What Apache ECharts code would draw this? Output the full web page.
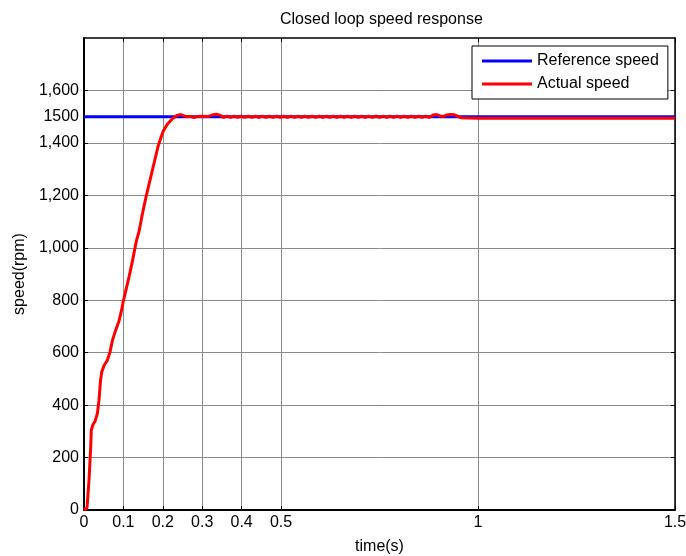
<!DOCTYPE html>
<html>
<head>
<meta charset="utf-8">
<script src="https://cdn.jsdelivr.net/npm/echarts@6/dist/echarts.min.js"></script>
<style>
  html, body { margin: 0; padding: 0; background: #ffffff; }
  #chart { width: 686px; height: 556px; }
</style>
</head>
<body>
<div id="chart"></div>
<script>
// Tick positions on both axes
const xTicks = [0, 0.1, 0.2, 0.3, 0.4, 0.5, 1, 1.5];
const yTicks = [0, 200, 400, 600, 800, 1000, 1200, 1400, 1500, 1600];

// Reference speed command (rpm)
const refTime = [0, 1.5];
const refSpeed = [1500, 1500];

// Measured motor speed (rpm) against time (s)
const actTime = [
  0, 0.004, 0.0076, 0.010, 0.0127, 0.015, 0.017, 0.0185, 0.023, 0.028,
  0.034, 0.038, 0.042, 0.045, 0.051, 0.059, 0.066, 0.072, 0.080, 0.089,
  0.095, 0.100, 0.106, 0.114, 0.123, 0.133, 0.140, 0.148, 0.157, 0.165,
  0.173, 0.182, 0.188, 0.195, 0.201, 0.211, 0.224, 0.237, 0.245, 0.258,
  0.271, 0.279, 0.288, 0.300, 0.315, 0.327, 0.336, 0.345,
  0.354, 0.363, 0.372, 0.381, 0.390, 0.399, 0.408, 0.417, 0.426, 0.435,
  0.444, 0.453, 0.462, 0.471, 0.480, 0.489, 0.498, 0.507, 0.516, 0.525,
  0.534, 0.543, 0.552, 0.561, 0.570, 0.579, 0.588, 0.597, 0.606, 0.615,
  0.624, 0.633, 0.642, 0.651, 0.660, 0.669, 0.678, 0.687, 0.696, 0.705,
  0.714, 0.723, 0.732, 0.741, 0.750, 0.759, 0.768, 0.777, 0.786, 0.795,
  0.804, 0.813, 0.822, 0.831, 0.840, 0.849, 0.858, 0.867, 0.876,
  0.886, 0.895, 0.904, 0.912, 0.920, 0.930, 0.940, 0.948, 0.956,
  1.0, 1.2, 1.5
];
const actSpeed = [
  0, 2, 8, 57, 114, 182, 239, 304, 327, 338,
  369, 418, 494, 526, 551, 570, 602, 646, 684, 722,
  760, 798, 836, 887, 950, 1026, 1064, 1128, 1191, 1242,
  1292, 1349, 1387, 1419, 1444, 1470, 1492, 1505, 1508, 1501,
  1501, 1497, 1501, 1502, 1501, 1507, 1509, 1506,
  1497, 1502, 1497, 1502, 1497, 1502, 1497, 1502, 1497, 1502,
  1497, 1502, 1497, 1502, 1497, 1502, 1497, 1502, 1497, 1502,
  1497, 1502, 1497, 1502, 1497, 1502, 1497, 1502, 1497, 1502,
  1497, 1502, 1497, 1502, 1497, 1502, 1497, 1502, 1497, 1502,
  1497, 1502, 1497, 1502, 1497, 1502, 1497, 1502, 1497, 1502,
  1497, 1502, 1497, 1502, 1497, 1502, 1497, 1502, 1497,
  1506, 1508, 1503, 1501, 1506, 1508, 1507, 1502, 1496,
  1494, 1494, 1494
];

const FONT = 'Liberation Sans, Arial, sans-serif';
const pairs = (xs, ys) => xs.map((x, i) => [x, ys[i]]);

const chart = echarts.init(document.getElementById('chart'), null, { renderer: 'canvas' });

const baseX = {
  type: 'value', min: 0, max: 1.5,
  axisTick: { customValues: xTicks, inside: true, length: 4, lineStyle: { color: '#000', width: 1 } },
  axisLabel: { customValues: xTicks, formatter: v => String(v) }
};
const baseY = {
  type: 'value', min: 0, max: 1800,
  axisTick: { customValues: yTicks, inside: true, length: 4, lineStyle: { color: '#000', width: 1 } },
  axisLabel: { customValues: yTicks, formatter: v => (v === 1500 ? '1500' : v.toLocaleString('en-US')) }
};

chart.setOption({
  animation: false,
  backgroundColor: '#ffffff',
  textStyle: { fontFamily: FONT },
  title: {
    text: 'Closed loop speed response',
    left: 275, top: 7,
    textStyle: { fontFamily: FONT, fontSize: 16, fontWeight: 'normal', color: '#000' }
  },
  grid: { left: 84, right: 11, top: 38, bottom: 46, containLabel: false, outerBoundsMode: 'none' },
  legend: {
    orient: 'vertical',
    left: 472, top: 46,
    padding: [7, 9, 7, 10],
    itemGap: 7,
    itemWidth: 50, itemHeight: 3,
    backgroundColor: '#ffffff',
    borderColor: '#000', borderWidth: 1,
    textStyle: { fontFamily: FONT, fontSize: 16, color: '#000' },
    data: [
      { name: 'Reference speed', icon: 'rect' },
      { name: 'Actual speed', icon: 'rect' }
    ],
    z: 10
  },
  xAxis: [
    Object.assign({}, baseX, {
      position: 'bottom',
      name: 'time(s)', nameLocation: 'middle', nameGap: 29,
      nameTextStyle: { fontFamily: FONT, fontSize: 16, color: '#000' },
      axisLine: { show: true, onZero: false, lineStyle: { color: '#000', width: 2 } },
      axisLabel: Object.assign({}, baseX.axisLabel, { margin: 5, fontSize: 16, color: '#000', fontFamily: FONT }),
      splitLine: { show: true, lineStyle: { color: '#8a8a8a', width: 1 } }
    }),
    Object.assign({}, baseX, {
      position: 'top',
      axisLine: { show: true, onZero: false, lineStyle: { color: '#000', width: 1.5 } },
      axisLabel: { show: false },
      splitLine: { show: false }
    })
  ],
  yAxis: [
    Object.assign({}, baseY, {
      position: 'left',
      name: 'speed(rpm)', nameLocation: 'middle', nameGap: 55, nameRotate: 90,
      nameTextStyle: { fontFamily: FONT, fontSize: 16, color: '#000' },
      axisLine: { show: true, onZero: false, lineStyle: { color: '#000', width: 2 } },
      axisLabel: Object.assign({}, baseY.axisLabel, { margin: 5, fontSize: 16, color: '#000', fontFamily: FONT }),
      splitLine: { show: true, lineStyle: { color: '#8a8a8a', width: 1 } }
    }),
    Object.assign({}, baseY, {
      position: 'right',
      axisLine: { show: true, onZero: false, lineStyle: { color: '#000', width: 1.5 } },
      axisLabel: { show: false },
      splitLine: { show: false }
    })
  ],
  series: [
    {
      name: 'Reference speed', type: 'line',
      xAxisIndex: 0, yAxisIndex: 0,
      data: pairs(refTime, refSpeed),
      showSymbol: false, symbol: 'none',
      lineStyle: { color: '#0000ff', width: 3 },
      itemStyle: { color: '#0000ff' },
      z: 3
    },
    {
      name: 'Actual speed', type: 'line',
      xAxisIndex: 0, yAxisIndex: 0,
      data: pairs(actTime, actSpeed),
      showSymbol: false, symbol: 'none',
      lineStyle: { color: '#ff0000', width: 3 },
      itemStyle: { color: '#ff0000' },
      z: 4
    }
  ]
});
</script>
</body>
</html>
